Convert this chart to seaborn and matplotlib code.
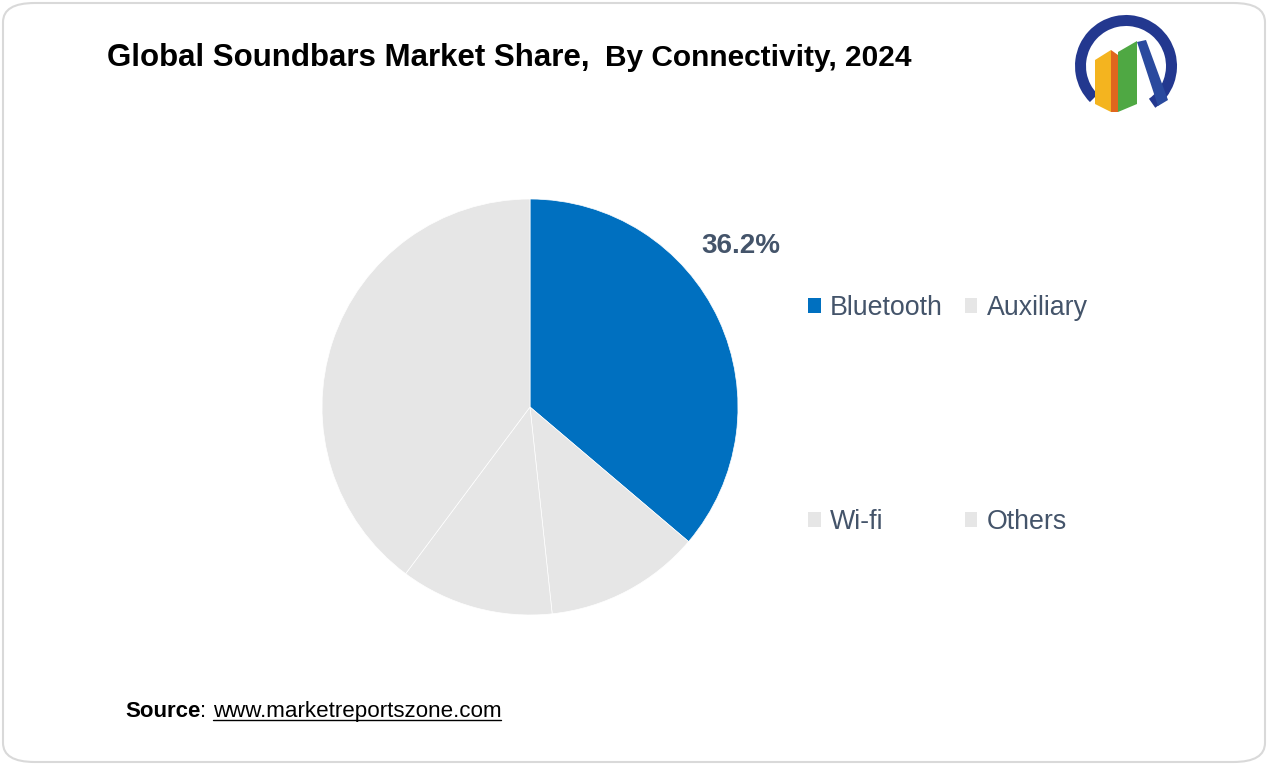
import matplotlib
matplotlib.use("Agg")
import matplotlib.pyplot as plt
import seaborn as sns
from matplotlib.patches import FancyBboxPatch, Rectangle, Wedge, Polygon
from matplotlib.lines import Line2D

sns.set_theme(style="white")
plt.rcParams['font.family'] = ['Liberation Sans', 'DejaVu Sans']

# ---- data ----
categories = ["Bluetooth", "Auxiliary", "Wi-fi", "Others"]
shares = [36.2, 12.1, 11.9, 39.8]
colors = ["#0070C0", "#E6E6E6", "#E6E6E6", "#E6E6E6"]
label_text = "36.2%"
title_main = "Global Soundbars Market Share,"
title_sub = "By Connectivity, 2024"
source_bold = "Source"
source_url = "www.marketreportszone.com"

W, H = 1268, 765
fig = plt.figure(figsize=(W / 100, H / 100), dpi=100)
fig.patch.set_facecolor("white")

# rounded border
border = FancyBboxPatch((3 / W, 3 / H), 1 - 6 / W, 1 - 6 / H,
                        boxstyle="round,pad=0,rounding_size=0.025",
                        transform=fig.transFigure, facecolor="none",
                        edgecolor="#D9D9D9", linewidth=1.5, zorder=-5)
fig.patches.append(border)

# pie axes: centre (530,407), radius 208 px
cx, cy, r = 530, 407, 208
ax = fig.add_axes([(cx - r) / W, (H - cy - r) / H, 2 * r / W, 2 * r / H])
ax.set_facecolor("none")
wedges, _ = ax.pie(shares, colors=colors, startangle=90, counterclock=False,
                   radius=1, wedgeprops=dict(edgecolor="white", linewidth=0.5))
ax.set_xlim(-1, 1)
ax.set_ylim(-1, 1)
ax.set_aspect("equal")
ax.axis("off")

ax.text(1.013, 0.775, label_text, ha="center", va="center", fontsize=20,
        fontweight="bold", color="#44546A", clip_on=False)

# legend (row-wise order)
order = [0, 2, 1, 3]
handles = [Rectangle((0, 0), 1, 1, facecolor=colors[i], edgecolor="none") for i in order]
labels = [categories[i] for i in order]
leg = fig.legend(handles, labels, ncol=2, loc="upper left",
                 bbox_to_anchor=(808 / W, 1 - 295 / H),
                 frameon=False, fontsize=19.3, labelspacing=7.03,
                 handlelength=0.48, handleheight=0.48, handletextpad=0.35,
                 columnspacing=0.8, borderpad=0, borderaxespad=0)
for t in leg.get_texts():
    t.set_color("#44546A")

# title
t1 = fig.text(107 / W, 1 - 66 / H, title_main, fontsize=22.5, fontweight="bold",
              color="black", ha="left", va="baseline")
fig.canvas.draw()
renderer = fig.canvas.get_renderer()
bb = t1.get_window_extent(renderer)
fig.text((bb.x1 + 15) / W, 1 - 66 / H, title_sub, fontsize=21.5, fontweight="bold",
         color="black", ha="left", va="baseline")

# source
s1 = fig.text(125 / W, 1 - 717 / H, source_bold, fontsize=16, fontweight="bold",
              color="black", ha="left", va="baseline")
bb = s1.get_window_extent(renderer)
s2 = fig.text(bb.x1 / W, 1 - 717 / H, ": ", fontsize=16, color="black",
              ha="left", va="baseline")
bb2 = s2.get_window_extent(renderer)
s3 = fig.text(bb2.x1 / W, 1 - 717 / H, source_url, fontsize=16.1, color="black",
              ha="left", va="baseline")
bb3 = s3.get_window_extent(renderer)
fig.add_artist(Line2D([bb3.x0 / W, bb3.x1 / W], [1 - 720 / H, 1 - 720 / H],
                      transform=fig.transFigure, color="black", linewidth=1.0))

# logo (decorative)
lax = fig.add_axes([1068 / W, 1 - 120 / H, 120 / W, 110 / H])
lax.set_facecolor("none")
lax.set_xlim(1068, 1188)
lax.set_ylim(120, 10)
lax.set_aspect("equal")
lax.axis("off")
lax.add_patch(Wedge((1126, 66), 51, 135, 55, width=11, facecolor="#23388F",
                    edgecolor="none"))
lax.add_patch(Polygon([[1137, 42], [1146, 40], [1168, 100], [1158, 106]],
                      closed=True, facecolor="#2A4A9E", edgecolor="none"))
lax.add_patch(Polygon([[1095, 60], [1111, 50], [1111, 112], [1095, 104]],
                      closed=True, facecolor="#F4B41F", edgecolor="none"))
lax.add_patch(Polygon([[1111, 50], [1118, 55], [1118, 112], [1111, 112]],
                      closed=True, facecolor="#E0661E", edgecolor="none"))
lax.add_patch(Polygon([[1118, 52], [1137, 41], [1137, 104], [1118, 112]],
                      closed=True, facecolor="#4FA843", edgecolor="none"))

fig.savefig("out.png", dpi=100, facecolor="white")
